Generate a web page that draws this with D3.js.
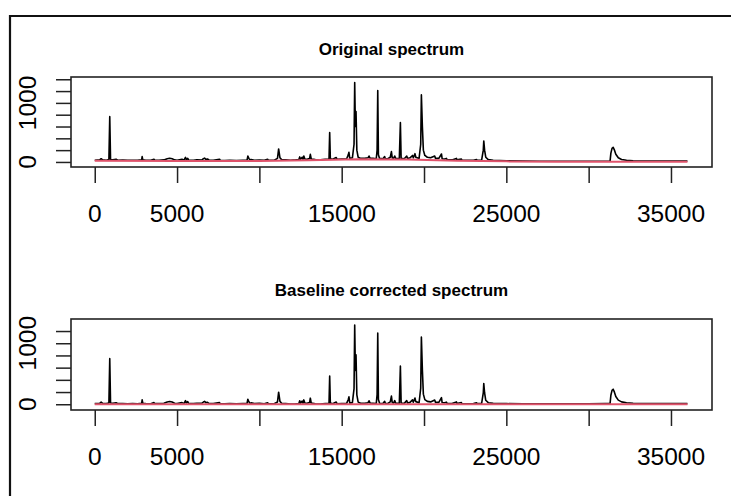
<!DOCTYPE html>
<html lang="en">
<head>
    <meta charset="UTF-8">
    <title>Spectrum baseline correction</title>
    <style>
        body, html {
            margin: 0;
            padding: 0;
            background: #fff;
            overflow: hidden;
        }
        svg text {
            font-family: "Liberation Sans", Arial, Helvetica, sans-serif;
            fill: #000;
        }
        .title {
            font-weight: bold;
            font-size: 17px;
        }
        .tick-label {
            font-size: 24.5px;
        }
    </style>
</head>
<body>
    <svg id="chart" width="731" height="496"></svg>

    <script src="https://cdnjs.cloudflare.com/ajax/libs/d3/7.8.5/d3.min.js"></script>
    <script>
        // raw spectrum: [index, intensity]
        const spectrum = [
            [0, 30], [300, 35], [389, 55], [480, 35], [700, 30], [860, 40], [912, 767], [960, 40],
            [1100, 35], [1300, 45], [1400, 30], [1700, 32], [2000, 28], [2300, 30], [2600, 28],
            [2850, 35], [2880, 90], [2920, 35], [3100, 30], [3400, 28], [3600, 45], [3650, 28],
            [3900, 30], [4200, 35], [4400, 55], [4550, 62], [4700, 55], [4850, 35], [5000, 30],
            [5300, 45], [5420, 30], [5512, 78], [5560, 40], [5650, 60], [5700, 30], [6000, 28],
            [6200, 35], [6500, 32], [6600, 55], [6670, 65], [6750, 45], [6850, 50], [6950, 30],
            [7200, 28], [7580, 45], [7620, 28], [7900, 25], [8200, 28], [8600, 25], [9000, 28],
            [9250, 30], [9300, 100], [9360, 60], [9420, 35], [9500, 40], [9700, 30], [10000, 32],
            [10300, 28], [10500, 45], [10550, 28], [10900, 30], [11100, 60], [11170, 220],
            [11250, 70], [11350, 40], [11600, 35], [11900, 30], [12200, 35], [12400, 40],
            [12450, 85], [12500, 45], [12600, 80], [12650, 45], [12700, 100], [12760, 50],
            [12900, 45], [13050, 60], [13095, 130], [13150, 50], [13400, 40], [13700, 38],
            [14000, 45], [14230, 50], [14270, 497], [14310, 55], [14450, 45], [14670, 75],
            [14720, 45], [15000, 50], [15300, 55], [15400, 120], [15440, 164], [15490, 60],
            [15650, 70], [15750, 300], [15790, 1344], [15830, 600], [15870, 853], [15920, 200],
            [16000, 80], [16150, 60], [16400, 60], [16600, 70], [16660, 100], [16720, 65],
            [16900, 60], [17100, 55], [17150, 200], [17190, 1208], [17230, 120], [17300, 60],
            [17500, 55], [17610, 90], [17650, 55], [17800, 55], [17950, 80], [18020, 175],
            [18070, 70], [18150, 60], [18220, 100], [18280, 60], [18500, 55], [18565, 667],
            [18610, 60], [18800, 55], [18950, 100], [19000, 60], [19150, 70], [19300, 110],
            [19350, 70], [19450, 140], [19500, 80], [19700, 60], [19800, 300], [19840, 1135],
            [19900, 600], [19960, 200], [20050, 110], [20200, 80], [20400, 70], [20650, 100],
            [20700, 60], [20900, 60], [21060, 135], [21100, 55], [21250, 50], [21360, 60],
            [21400, 40], [21700, 35], [21970, 60], [22000, 35], [22270, 50], [22300, 30],
            [22700, 28], [23000, 30], [23190, 40], [23230, 28], [23500, 30], [23600, 200],
            [23630, 356], [23680, 200], [23750, 80], [23900, 40], [24200, 28], [25000, 20],
            [26000, 15], [27000, 12], [28000, 11], [29000, 11], [30000, 11], [31000, 12],
            [31300, 13], [31350, 150], [31420, 230], [31490, 249], [31560, 205], [31650, 130],
            [31800, 70], [32000, 42], [32300, 28], [32700, 20], [33200, 17], [34000, 16],
            [35000, 15], [36000, 15]
        ];

        // fitted baseline (red line in the top panel)
        const baselineX = [0, 5000, 10000, 13000, 16000, 19000, 22000, 25000, 28000, 31000, 34000, 36000];
        const baselineY = [20, 18, 18, 30, 45, 40, 22, 10, 3, 2, 5, 5];

        // axis ranges as R computed them from the data
        const xLim = [0, 36050];
        const origYLim = [-29, 1382];
        const corrYLim = [-39, 1342];

        const xTicks = [0, 5000, 10000, 15000, 20000, 25000, 30000, 35000];
        const xTickLabels = ["0", "5000", "", "15000", "", "25000", "", "35000"];
        const yTicks = [0, 200, 400, 600, 800, 1000, 1200, 1400];
        const yTickLabels = ["0", "", "", "", "", "1000", "", ""];

        const svg = d3.select("#chart");

        // outer frame (runs off the right and bottom edges)
        svg.append("path")
            .attr("d", "M10,496V16H731")
            .attr("fill", "none")
            .attr("stroke", "#111")
            .attr("stroke-width", 2.2);

        // R pads each axis range by 4%
        function rPad(lim) {
            const r = lim[1] - lim[0];
            return [lim[0] - 0.04 * r, lim[1] + 0.04 * r];
        }

        const baseAt = d3.scaleLinear().domain(baselineX).range(baselineY);
        const corrected = spectrum.map(d => [d[0], d[1] - baseAt(d[0])]);

        const panels = [
            {
                title: "Original spectrum",
                line: spectrum,
                base: baselineX.map((x, i) => [x, baselineY[i]]),
                yLim: origYLim,
                top: 77, bottom: 167,
                titleY: 54.5, labelY: 222
            },
            {
                title: "Baseline corrected spectrum",
                line: corrected,
                base: baselineX.map(x => [x, 0]),
                yLim: corrYLim,
                top: 319, bottom: 410,
                titleY: 296, labelY: 465
            }
        ];

        const left = 71, right = 712;
        const x = d3.scaleLinear().domain(rPad(xLim)).range([left, right]);

        panels.forEach(p => {
            const y = d3.scaleLinear().domain(rPad(p.yLim)).range([p.bottom, p.top]);
            const g = svg.append("g");

            const line = d3.line()
                .x(d => x(d[0]))
                .y(d => y(d[1]));

            g.append("path")
                .datum(p.line)
                .attr("d", line)
                .attr("fill", "none")
                .attr("stroke", "#000")
                .attr("stroke-width", 1.6)
                .attr("stroke-linejoin", "round");

            g.append("path")
                .datum(p.base)
                .attr("d", line)
                .attr("fill", "none")
                .attr("stroke", "#DF536B")
                .attr("stroke-width", 2);

            // plot box
            g.append("rect")
                .attr("x", left)
                .attr("y", p.top)
                .attr("width", right - left)
                .attr("height", p.bottom - p.top)
                .attr("fill", "none")
                .attr("stroke", "#222")
                .attr("stroke-width", 1.6);

            // x axis
            const xAxis = d3.axisBottom(x)
                .tickValues(xTicks)
                .tickSize(16)
                .tickSizeOuter(0)
                .tickFormat("");
            const gx = g.append("g")
                .attr("transform", `translate(0,${p.bottom})`)
                .call(xAxis);
            gx.select(".domain").remove();
            gx.selectAll(".tick line").attr("stroke", "#222").attr("stroke-width", 1.5);

            g.selectAll(".xlab")
                .data(xTicks.filter((t, i) => xTickLabels[i] !== ""))
                .enter()
                .append("text")
                .attr("class", "tick-label")
                .attr("x", d => x(d))
                .attr("y", p.labelY)
                .attr("text-anchor", "middle")
                .text(d => xTickLabels[xTicks.indexOf(d)]);

            // y axis
            const yMax = rPad(p.yLim)[1];
            const ticks = yTicks.filter(t => t <= yMax);
            const yAxis = d3.axisLeft(y)
                .tickValues(ticks)
                .tickSize(15)
                .tickSizeOuter(0)
                .tickFormat("");
            const gy = g.append("g")
                .attr("transform", `translate(${left},0)`)
                .call(yAxis);
            gy.select(".domain").remove();
            gy.selectAll(".tick line").attr("stroke", "#222").attr("stroke-width", 1.5);

            g.selectAll(".ylab")
                .data(ticks.filter(t => yTickLabels[yTicks.indexOf(t)] !== ""))
                .enter()
                .append("text")
                .attr("class", "tick-label")
                .attr("transform", d => `translate(36,${y(d)}) rotate(-90)`)
                .attr("text-anchor", "middle")
                .text(d => yTickLabels[yTicks.indexOf(d)]);

            g.append("text")
                .attr("class", "title")
                .attr("x", (left + right) / 2)
                .attr("y", p.titleY)
                .attr("text-anchor", "middle")
                .text(p.title);
        });
    </script>
</body>
</html>
